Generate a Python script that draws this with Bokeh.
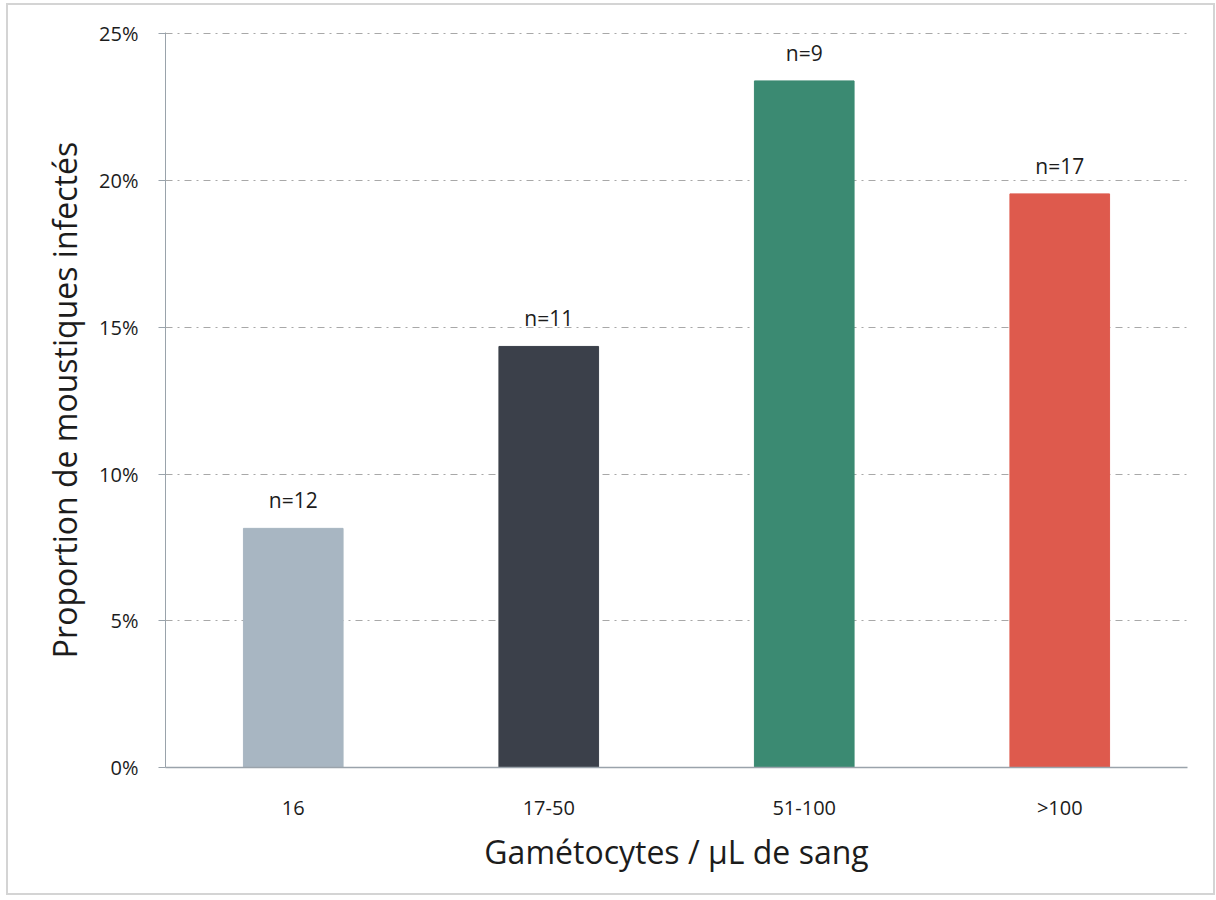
from bokeh.plotting import figure
from bokeh.models import ColumnDataSource, PrintfTickFormatter, FixedTicker, Range1d
from bokeh.embed import file_html
from bokeh.resources import INLINE

# Infection rate of mosquitoes by gametocyte density
categories = ["16", "17-50", "51-100", ">100"]
proportions = [8.15, 14.35, 23.4, 19.55]   # percent of mosquitoes infected
sample_sizes = ["n=12", "n=11", "n=9", "n=17"]
bar_colors = ["#a8b6c2", "#3b404a", "#3b8a72", "#de5a4d"]
y_ticks = [0, 5, 10, 15, 20, 25]

FONT = "Open Sans"
TEXT_COLOR = "#1c1c1c"

source = ColumnDataSource(dict(
    cat=categories,
    val=proportions,
    lab=sample_sizes,
    color=bar_colors,
))

p = figure(
    x_range=categories,
    y_range=Range1d(0, 25.05),
    width=1205, height=888,
    frame_width=1022, frame_height=735,
    min_border_left=157, min_border_right=26,
    min_border_top=27, min_border_bottom=126,
    output_backend="svg", toolbar_location=None,
)
p.margin = (5, 0, 0, 8)
p.styles = {"outline": "2px solid #d4d4d4"}
p.outline_line_color = None
p.background_fill_color = "white"
p.border_fill_color = "white"

p.vbar(x="cat", top="val", width=0.39, color="color", source=source)

p.text(x="cat", y="val", text="lab", source=source,
       text_align="center", text_baseline="middle", y_offset=-28,
       text_font_size="21px", text_color=TEXT_COLOR,
       text_font={"value": FONT})

# Y axis
p.yaxis.ticker = FixedTicker(ticks=y_ticks)
p.yaxis.formatter = PrintfTickFormatter(format="%d%%")
p.yaxis.axis_label = "Proportion de moustiques infectés"
p.yaxis.axis_label_text_font = FONT
p.yaxis.axis_label_text_font_size = "32px"
p.yaxis.axis_label_text_font_style = "normal"
p.yaxis.axis_label_text_color = TEXT_COLOR
p.yaxis.axis_label_standoff = 10
p.yaxis.major_label_text_font = FONT
p.yaxis.major_label_text_font_size = "20px"
p.yaxis.major_label_text_color = TEXT_COLOR
p.yaxis.major_label_standoff = 20
p.yaxis.major_tick_out = 7
p.yaxis.major_tick_in = 0
p.yaxis.minor_tick_line_color = None
p.yaxis.axis_line_color = "#9aa3ab"
p.yaxis.major_tick_line_color = "#9aa3ab"

# X axis
p.xaxis.axis_label = "Gamétocytes / µL de sang"
p.xaxis.axis_label_text_font = FONT
p.xaxis.axis_label_text_font_size = "32px"
p.xaxis.axis_label_text_font_style = "normal"
p.xaxis.axis_label_text_color = TEXT_COLOR
p.xaxis.axis_label_standoff = 6
p.xaxis.major_label_text_font = FONT
p.xaxis.major_label_text_font_size = "20px"
p.xaxis.major_label_text_color = TEXT_COLOR
p.xaxis.major_label_standoff = 20
p.xaxis.major_tick_line_color = None
p.xaxis.axis_line_color = "#9aa3ab"
p.xaxis.axis_line_width = 1.5

# Grid
p.xgrid.grid_line_color = None
p.ygrid.grid_line_color = "#a8a8a8"
p.ygrid.grid_line_dash = "7 5 2 5"
p.ygrid.grid_line_width = 1.2

open("out.html", "w").write(file_html(p, INLINE))
